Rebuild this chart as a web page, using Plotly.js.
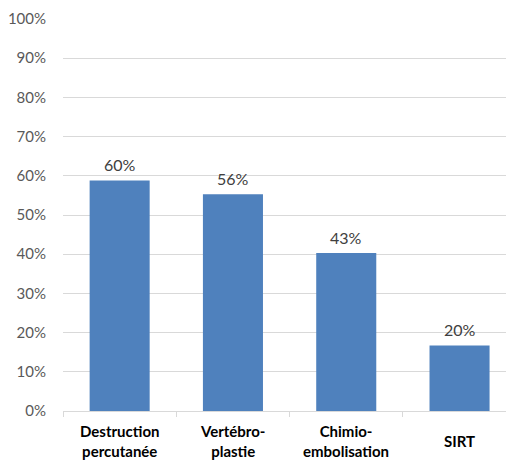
<!DOCTYPE html>
<html>
<head>
<meta charset="utf-8">
<script src="https://cdn.plot.ly/plotly-3.0.1.min.js"></script>
<style>html,body{margin:0;padding:0;background:#fff;}#chart{width:506px;height:462px;}</style>
</head>
<body>
<div id="chart"></div>
<script>
const categories = ["Destruction percutanée", "Vertébroplastie", "Chimioembolisation", "SIRT"];
const categoryLabels = ["Destruction<br>percutanée", "Vertébro-<br>plastie", "Chimio-<br>embolisation", "SIRT"];
const barValues = [0.588, 0.553, 0.403, 0.167];
const dataLabels = ["60%", "56%", "43%", "20%"];

const FONT = "Lato, 'Open Sans', sans-serif";

const trace = {
  type: "bar",
  x: categories,
  y: barValues,
  marker: {color: "#4f81bd"},
  width: 0.53,
  hoverinfo: "skip"
};

const catAnnotations = categories.map((c, i) => ({
  x: c, xref: "x",
  y: 0, yref: "paper",
  yanchor: "middle",
  yshift: -30,
  text: categoryLabels[i],
  showarrow: false,
  font: {family: FONT, size: 15, color: "#000", weight: "bold"},
  align: "center"
}));

const valAnnotations = categories.map((c, i) => ({
  x: c, xref: "x",
  y: barValues[i], yref: "y",
  yanchor: "middle",
  yshift: 16,
  text: dataLabels[i],
  showarrow: false,
  font: {family: FONT, size: 16, color: "#404040"}
}));

const layout = {
  width: 506, height: 462,
  margin: {l: 63, r: 0, t: 19, b: 51, pad: 0},
  paper_bgcolor: "#fff", plot_bgcolor: "#fff",
  showlegend: false,
  xaxis: {
    type: "category",
    range: [-0.5, 3.41],
    showticklabels: false,
    showgrid: false,
    showline: true, linecolor: "#d9d9d9", linewidth: 1,
    ticks: "outside", tickson: "boundaries", ticklen: 5, tickcolor: "#d9d9d9",
    zeroline: false
  },
  yaxis: {
    range: [0, 1],
    dtick: 0.1, tick0: 0,
    tickformat: ".0%",
    showgrid: true, gridcolor: "#d9d9d9", gridwidth: 1,
    zeroline: false,
    showline: false,
    ticks: "outside", ticklen: 13, tickcolor: "rgba(0,0,0,0)",
    tickfont: {family: FONT, size: 15, color: "#595959"}
  },
  annotations: catAnnotations.concat(valAnnotations)
};

Plotly.newPlot("chart", [trace], layout, {displayModeBar: false, staticPlot: true});
</script>
</body>
</html>
